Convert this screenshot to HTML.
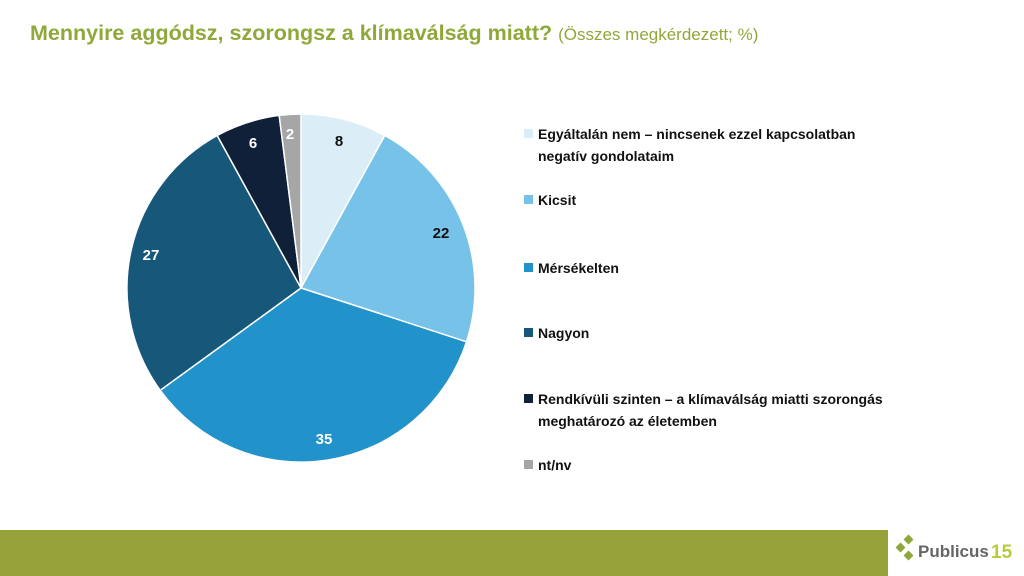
<!DOCTYPE html>
<html><head><meta charset="utf-8"><style>
body{margin:0;width:1024px;height:576px;background:#fff;position:relative;overflow:hidden;font-family:"Liberation Sans",sans-serif}
.t{position:absolute;left:30px;top:21px;font-size:21.5px;font-weight:bold;color:#8fa83a;white-space:nowrap}
.t span{font-size:17px;font-weight:normal}
.lg{position:absolute;left:524px;font-size:14px;font-weight:bold;color:#111;line-height:22px;white-space:nowrap}
.lg i{position:absolute;left:0;top:6px;width:9px;height:9px}
.lg div{padding-left:14px}
</style></head><body>
<div class="t">Mennyire aggódsz, szorongsz a klímaválság miatt? <span>(Összes megkérdezett; %)</span></div>
<svg width="1024" height="576" style="position:absolute;left:0;top:0">
<g stroke="#fff" stroke-width="1.5">
<path d="M301,288 L301,114 A174,174 0 0 1 384.8,135.5 Z" fill="#dbeef8"/>
<path d="M301,288 L384.8,135.5 A174,174 0 0 1 466.5,341.8 Z" fill="#77c2e8"/>
<path d="M301,288 L466.5,341.8 A174,174 0 0 1 160.2,390.3 Z" fill="#2292cb"/>
<path d="M301,288 L160.2,390.3 A174,174 0 0 1 217.2,135.5 Z" fill="#17577a"/>
<path d="M301,288 L217.2,135.5 A174,174 0 0 1 279.2,115.4 Z" fill="#0f2038"/>
<path d="M301,288 L279.2,115.4 A174,174 0 0 1 301,114 Z" fill="#a6a6a6"/>
</g>
<g font-family="Liberation Sans" font-weight="bold" font-size="15" text-anchor="middle">
<text x="339" y="146" fill="#111">8</text>
<text x="441" y="238" fill="#111">22</text>
<text x="324" y="444" fill="#fff">35</text>
<text x="151" y="260" fill="#fff">27</text>
<text x="253" y="148" fill="#fff">6</text>
<text x="290" y="139" fill="#fff">2</text>
</g>
<rect x="0" y="530" width="888" height="46" fill="#96a23a"/>
<g fill="#8fa83a"><rect x="897" y="544" width="7" height="7" transform="rotate(45 900.5 547.5)"/><rect x="905" y="536" width="7" height="7" transform="rotate(45 908.5 539.5)"/><rect x="905" y="552" width="7" height="7" transform="rotate(45 908.5 555.5)"/></g>
<text x="918" y="557" font-family="Liberation Sans" font-weight="bold" font-size="17" fill="#666">Publicus</text>
<text x="991" y="558" font-family="Liberation Sans" font-weight="bold" font-size="19" fill="#b6cc3c">15</text>
</svg>
<div class="lg" style="top:123px"><i style="background:#dbeef8"></i><div>Egyáltalán nem – nincsenek ezzel kapcsolatban<br>negatív gondolataim</div></div>
<div class="lg" style="top:189px"><i style="background:#77c2e8"></i><div>Kicsit</div></div>
<div class="lg" style="top:257px"><i style="background:#2292cb"></i><div>Mérsékelten</div></div>
<div class="lg" style="top:322px"><i style="background:#17577a"></i><div>Nagyon</div></div>
<div class="lg" style="top:388px"><i style="background:#0f2038"></i><div>Rendkívüli szinten – a klímaválság miatti szorongás<br>meghatározó az életemben</div></div>
<div class="lg" style="top:454px"><i style="background:#a6a6a6"></i><div>nt/nv</div></div>
</body></html>
